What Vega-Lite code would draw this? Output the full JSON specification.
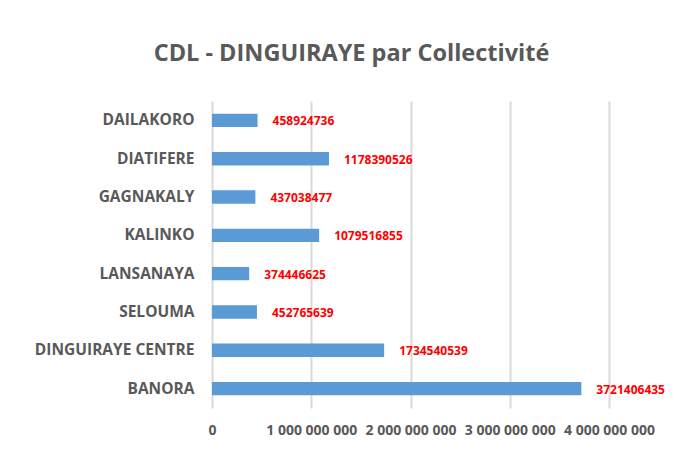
{
  "$schema": "https://vega.github.io/schema/vega-lite/v6.json",
  "width": 397,
  "height": 307,
  "autosize": "none",
  "padding": {"left": 212, "top": 101, "right": 79, "bottom": 41},
  "background": "white",
  "config": {
    "locale": {"number": {"decimal": ",", "thousands": " ", "grouping": [3], "currency": ["", ""]}},
    "view": {"stroke": null},
    "font": "Open Sans"
  },
  "title": {
    "text": "CDL - DINGUIRAYE par Collectivité",
    "anchor": "middle",
    "frame": "group",
    "dx": -59,
    "offset": 36,
    "fontSize": 23.5,
    "fontWeight": "bold",
    "color": "#595959",
    "font": "Open Sans"
  },
  "data": {
    "values": [
      {"collectivite": "DAILAKORO", "montant": 458924736},
      {"collectivite": "DIATIFERE", "montant": 1178390526},
      {"collectivite": "GAGNAKALY", "montant": 437038477},
      {"collectivite": "KALINKO", "montant": 1079516855},
      {"collectivite": "LANSANAYA", "montant": 374446625},
      {"collectivite": "SELOUMA", "montant": 452765639},
      {"collectivite": "DINGUIRAYE CENTRE", "montant": 1734540539},
      {"collectivite": "BANORA", "montant": 3721406435}
    ]
  },
  "encoding": {
    "y": {
      "field": "collectivite",
      "type": "nominal",
      "sort": null,
      "scale": {"paddingInner": 0.65, "paddingOuter": 0.33},
      "axis": {
        "title": null,
        "domain": false,
        "ticks": false,
        "labelPadding": 18,
        "labelFontSize": 15.5,
        "labelFontWeight": "bold",
        "labelColor": "#595959",
        "labelFont": "Open Sans"
      }
    },
    "x": {
      "field": "montant",
      "type": "quantitative",
      "scale": {"domain": [0, 4000000000], "nice": false},
      "axis": {
        "title": null,
        "domain": false,
        "ticks": false,
        "values": [0, 1000000000, 2000000000, 3000000000, 4000000000],
        "format": ",d",
        "labelPadding": 15,
        "labelFontSize": 14,
        "labelFontWeight": "bold",
        "labelColor": "#595959",
        "labelFont": "Open Sans",
        "gridColor": "#d9d9d9",
        "gridWidth": 2,
        "labelFlush": false
      }
    }
  },
  "layer": [
    {"mark": {"type": "bar", "color": "#5B9BD5"}},
    {
      "mark": {"type": "text", "align": "left", "dx": 15, "dy": 1, "color": "#FF0000", "fontSize": 12, "fontWeight": "bold", "font": "Open Sans"},
      "encoding": {"text": {"field": "montant", "type": "quantitative", "format": "d"}}
    }
  ]
}
